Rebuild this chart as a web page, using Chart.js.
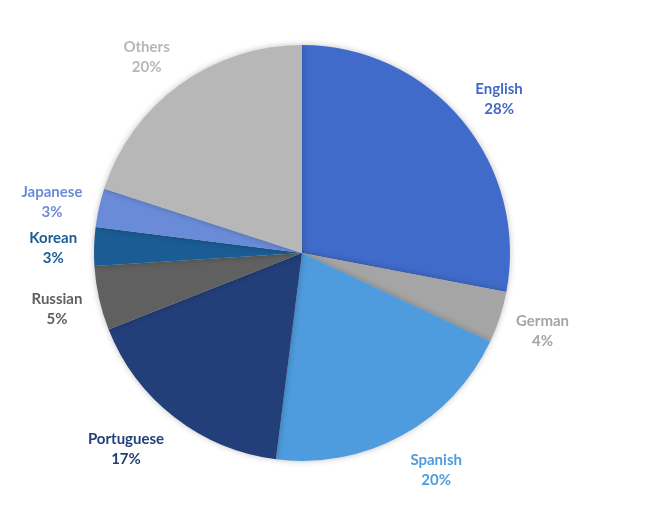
<!DOCTYPE html>
<html>
<head>
<meta charset="utf-8">
<script src="https://cdn.jsdelivr.net/npm/chart.js@4"></script>
<style>
  html, body { margin: 0; padding: 0; background: #fff; }
  #wrap { width: 652px; height: 509px; }
</style>
</head>
<body>
<div id="wrap"><canvas id="c" width="652" height="509"></canvas></div>
<script>
const categories = ["English", "German", "Spanish", "Portuguese", "Russian", "Korean", "Japanese", "Others"];
const shares = [28, 4, 20, 17, 5, 3, 3, 20];
const percentLabels = ["28%", "4%", "20%", "17%", "5%", "3%", "3%", "20%"];
const sliceColors = ["#416BCA", "#A5A5A5", "#4E9BDD", "#223F7A", "#606060", "#1B5C95", "#6A8CD8", "#B7B7B7"];

const labelPlugin = {
  id: 'outsideLabels',
  afterDatasetsDraw(chart) {
    const ctx = chart.ctx;
    const meta = chart.getDatasetMeta(0);
    ctx.save();
    ctx.font = 'bold 15px Lato, "Open Sans", sans-serif';
    ctx.textAlign = 'center';
    ctx.textBaseline = 'middle';
    const gap = 17, lineH = 20, boxH = 40, baseShift = 2.5;
    meta.data.forEach((arc, i) => {
      const p = arc.getProps(['x', 'y', 'startAngle', 'endAngle', 'outerRadius'], true);
      const mid = (p.startAngle + p.endAngle) / 2;
      const c = Math.cos(mid), s = Math.sin(mid);
      const w = Math.max(ctx.measureText(categories[i]).width, ctx.measureText(percentLabels[i]).width);
      const ex = p.x + c * (p.outerRadius + gap);
      const ey = p.y + s * (p.outerRadius + gap);
      const cx = ex + Math.sign(c) * w / 2;
      const cy = ey + s * boxH / 2 + baseShift;
      ctx.fillStyle = sliceColors[i];
      ctx.fillText(categories[i], cx, cy - lineH / 2);
      ctx.fillText(percentLabels[i], cx, cy + lineH / 2);
    });
    ctx.restore();
  }
};

const shadowPlugin = {
  id: 'pieShadow',
  beforeDatasetsDraw(chart) {
    const ctx = chart.ctx;
    ctx.save();
    ctx.shadowColor = 'rgba(0,0,0,0.25)';
    ctx.shadowBlur = 6;
    ctx.shadowOffsetX = 0;
    ctx.shadowOffsetY = 0;
  },
  afterDatasetsDraw(chart) {
    chart.ctx.restore();
  }
};

new Chart(document.getElementById('c'), {
  type: 'pie',
  data: {
    labels: categories,
    datasets: [{
      data: shares,
      backgroundColor: sliceColors,
      borderWidth: 0,
      hoverOffset: 0
    }]
  },
  options: {
    responsive: false,
    animation: false,
    layout: { padding: { left: 94, right: 142, top: 45, bottom: 48 } },
    plugins: {
      legend: { display: false },
      tooltip: { enabled: false }
    }
  },
  plugins: [shadowPlugin, labelPlugin]
});
</script>
</body>
</html>
